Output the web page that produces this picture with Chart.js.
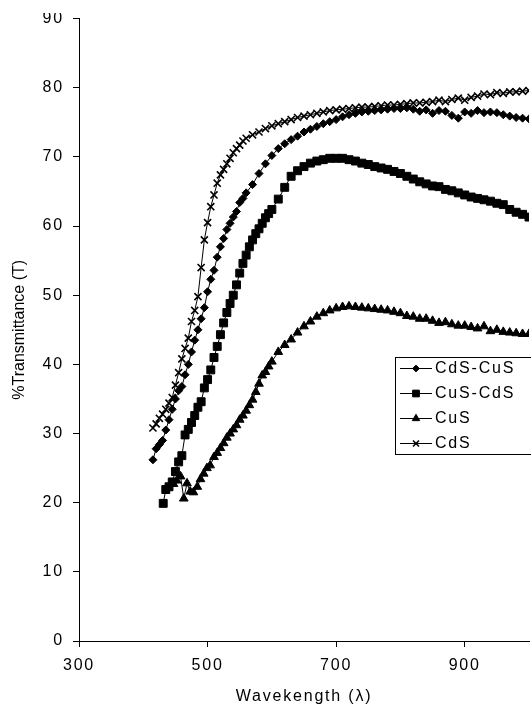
<!DOCTYPE html>
<html>
<head>
<meta charset="utf-8">
<script src="https://cdn.jsdelivr.net/npm/chart.js@4.4.1/dist/chart.umd.min.js"></script>
<style>
  body { margin: 0; overflow: hidden; background: #fff; }
  #wrap { width: 600px; height: 706px; }
</style>
</head>
<body>
<div id="wrap"><canvas id="chart" width="600" height="706"></canvas></div>
<script>
// tick labels
const xTicks = [300, 500, 700, 900];
const yTicks = [0, 10, 20, 30, 40, 50, 60, 70, 80, 90];

// series names
const names = ['CdS-CuS', 'CuS-CdS', 'CuS', 'CdS'];

// wavelengths (nm) and % transmittance
const cdsCusWl = [415,420,425,430,435,440,445,450,455,460,465,470,475,480,485,490,495,500,505,510,515,520,525,530,535,540,545,550,555,560,
  570,580,590,600,610,620,630,640,650,660,670,680,690,700,710,720,730,740,750,760,770,780,790,800,810,820,830,840,850,860,870,880,890,900,910,920,930,940,950,960,970,980,990,1000];
const cdsCusT = [26.2,27.8,28.4,29.0,30.5,32.0,33.5,35.0,36.2,36.8,38.5,40.0,41.8,43.5,45.0,46.6,48.2,50.5,52.3,53.6,55.5,57.0,58.2,59.5,60.4,61.3,62.1,63.4,64.0,64.8,
  66.0,67.6,69.0,70.2,71.2,71.9,72.5,73.0,73.6,74.0,74.4,74.8,75.1,75.4,75.8,76.1,76.3,76.5,76.6,76.7,76.8,76.9,77.0,77.0,77.1,76.9,76.6,76.8,76.3,76.7,76.6,76.0,75.6,76.5,76.3,76.7,76.4,76.5,76.4,76.1,75.9,75.7,75.6,75.5];

const cusCdsWl = [431,435,440,445,450,455,460,465,470,475,480,485,490,495,500,505,510,515,520,525,530,535,540,545,550,555,560,565,570,575,580,585,590,595,600,
  610,620,630,640,650,660,670,680,690,700,710,720,730,740,750,760,770,780,790,800,810,820,830,840,850,860,870,880,890,900,910,920,930,940,950,960,970,980,990,1000];
const cusCdsT = [19.9,21.9,22.3,23.0,24.5,25.9,26.8,29.8,30.6,31.6,32.6,33.8,34.6,36.6,37.8,39.2,41.0,42.6,44.3,46.0,47.5,48.8,50.0,51.5,53.2,54.6,55.8,57.0,58.0,58.9,59.6,60.4,61.2,61.8,62.4,
  63.9,65.6,67.2,68.0,68.6,69.1,69.4,69.6,69.8,69.8,69.8,69.6,69.4,69.1,68.9,68.6,68.4,68.2,67.9,67.6,67.2,66.8,66.4,66.1,65.8,65.7,65.3,65.1,64.8,64.5,64.2,64.0,63.8,63.6,63.3,63.1,62.4,62.0,61.7,61.3];

const cusWl = [447,452,458,463,468,473,478,484,489,494,499,504,510,515,520,525,530,535,540,545,550,555,560,565,570,575,580,585,590,595,600,
  610,620,630,640,650,660,670,680,690,700,710,720,730,740,750,760,770,780,790,800,810,820,830,840,850,860,870,880,890,900,910,920,930,940,950,960,970,980,990,1000];
const cusT = [22.7,23.2,23.8,20.6,22.8,21.6,21.5,22.3,23.4,24.2,25.0,25.4,26.6,27.2,27.9,28.6,29.4,30.0,30.6,31.2,32.0,32.6,33.3,34.1,34.9,36.0,37.2,38.4,38.9,39.7,40.4,
  41.8,42.8,43.6,44.6,45.5,46.2,46.9,47.4,47.8,48.1,48.3,48.4,48.3,48.2,48.1,48.0,47.9,47.8,47.6,47.4,47.0,46.9,46.6,46.6,46.3,46.0,46.1,45.8,45.6,45.6,45.4,45.2,45.5,44.8,45.0,44.7,44.6,44.5,44.4,44.4];

const cdsWl = [415,420,425,430,435,440,445,450,455,460,465,470,475,480,485,490,495,500,505,510,515,520,525,530,535,540,545,550,555,560,
  570,580,590,600,610,620,630,640,650,660,670,680,690,700,710,720,730,740,750,760,770,780,790,800,810,820,830,840,850,860,870,880,890,900,910,920,930,940,950,960,970,980,990,1000];
const cdsT = [30.8,31.4,32.2,32.8,33.5,34.4,35.2,37.0,38.8,40.8,42.3,43.8,46.2,47.8,49.8,54.0,58.0,60.5,62.8,64.5,66.2,67.4,68.2,69.0,69.8,70.6,71.2,71.7,72.3,72.7,
  73.2,73.6,74.1,74.5,74.8,75.1,75.4,75.7,75.9,76.1,76.3,76.5,76.7,76.8,76.9,77.0,77.1,77.2,77.2,77.3,77.4,77.5,77.5,77.6,77.7,77.8,77.8,77.9,78.0,78.2,78.0,78.3,78.5,78.2,78.6,78.8,79.1,79.0,79.3,79.2,79.4,79.4,79.5,79.6];

const FONT = '"Liberation Sans", Arial, sans-serif';

const toPoints = (wl, t) => wl.map((w, i) => ({ x: w, y: t[i] }));

const mk = (label, pts, style, r, bw) => ({
    label: label,
    data: pts,
    borderColor: '#000',
    backgroundColor: '#000',
    borderWidth: 1,
    pointStyle: style,
    pointRadius: r,
    pointBorderWidth: bw,
    pointBackgroundColor: '#000',
    pointBorderColor: '#000',
    pointHoverRadius: r,
    tension: 0
})

// legend box, y title and the cut strip at the top
const extras = {
    id: 'extras',
    beforeDraw(chart) {
        chart.ctx.letterSpacing = '1.8px'
    },
    afterDraw(chart) {
        const c = chart.ctx
        const area = chart.chartArea
        c.save()
        c.fillStyle = '#fff'
        c.fillRect(0, 0, chart.width, 13)

        c.letterSpacing = '0px'
        c.fillStyle = '#000'
        c.font = '16px ' + FONT
        c.textAlign = 'center'
        c.textBaseline = 'middle'
        c.translate(20, (area.top + area.bottom) / 2)
        c.rotate(-Math.PI / 2)
        c.fillText('%Transmittance (T)', 0, 0)
        c.restore()

        c.save()
        c.strokeStyle = '#000'
        c.lineWidth = 1
        c.strokeRect(395.5, 357.5, 180, 97)
        c.letterSpacing = '1.8px'
        c.font = '16px ' + FONT
        c.textAlign = 'left'
        c.textBaseline = 'middle'
        chart.data.datasets.forEach((ds, i) => {
            const y = 368 + i * 25
            c.strokeStyle = '#000'
            c.fillStyle = '#000'
            c.lineWidth = 1
            c.beginPath()
            c.moveTo(400, y + 0.5)
            c.lineTo(432, y + 0.5)
            c.stroke()
            if (Chart.helpers && Chart.helpers.drawPoint) {
                c.lineWidth = ds.pointBorderWidth
                Chart.helpers.drawPoint(c, { pointStyle: ds.pointStyle, radius: ds.pointRadius * 0.85, rotation: 0, borderWidth: ds.pointBorderWidth }, 416, y + 0.5)
            }
            c.fillText(ds.label, 435, y + 1)
        })
        c.restore()
    }
}

const chart = document.querySelector('#chart').getContext('2d')

new Chart(chart, {
    type: 'line',
    data: {
        datasets: [
            mk(names[0], toPoints(cdsCusWl, cdsCusT), 'rectRot', 4, 1),
            mk(names[1], toPoints(cusCdsWl, cusCdsT), 'rect', 5.6, 1),
            mk(names[2], toPoints(cusWl, cusT), 'triangle', 5, 1),
            mk(names[3], toPoints(cdsWl, cdsT), 'crossRot', 5, 1.6)
        ]
    },
    options: {
        responsive: false,
        animation: false,
        events: [],
        layout: { padding: { top: 14, right: 71, left: 0, bottom: 0 } },
        plugins: { legend: { display: false }, tooltip: { enabled: false } },
        scales: {
            x: {
                type: 'linear',
                min: 300,
                max: 1000,
                afterBuildTicks: (s) => { s.ticks = xTicks.map(v => ({ value: v })) },
                afterFit: (s) => { s.height = 65 },
                grid: { drawOnChartArea: false, drawTicks: true, tickLength: 6, color: '#000' },
                border: { color: '#000', width: 1 },
                ticks: { color: '#000', font: { family: FONT, size: 16 }, padding: 9, maxRotation: 0 },
                title: { display: true, text: 'Wavekength (λ)', color: '#000', font: { family: FONT, size: 16 }, padding: { top: 0, bottom: 0 } }
            },
            y: {
                min: 0,
                max: 90,
                afterBuildTicks: (s) => { s.ticks = yTicks.map(v => ({ value: v })) },
                afterFit: (s) => { s.width = 79 },
                grid: { drawOnChartArea: false, drawTicks: true, tickLength: 6, color: '#000' },
                border: { color: '#000', width: 1 },
                ticks: { color: '#000', font: { family: FONT, size: 16 }, padding: 9 }
            }
        }
    },
    plugins: [extras]
})
</script>
</body>
</html>
